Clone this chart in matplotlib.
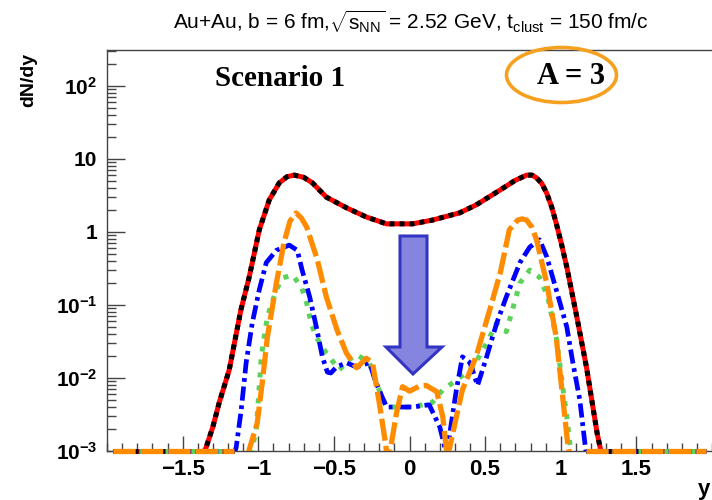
import numpy as np
import matplotlib
matplotlib.use("Agg")
import matplotlib.pyplot as plt
from matplotlib.patches import Ellipse, Polygon
from matplotlib.ticker import FixedLocator, LogLocator, MultipleLocator, NullFormatter

plt.rcParams['font.family'] = ['Liberation Sans', 'DejaVu Sans']
plt.rcParams['mathtext.fontset'] = 'custom'
plt.rcParams['mathtext.rm'] = 'Liberation Sans'
plt.rcParams['mathtext.it'] = 'Liberation Sans:italic'
plt.rcParams['mathtext.bf'] = 'Liberation Sans:bold'

# ---------------- data (dN/dy vs rapidity y) ----------------
floor_value = 1e-3
floor_left = [-1.96, -1.16]
floor_right = [1.17, 1.96]

tot_x = [-1.37, -1.346, -1.30, -1.258, -1.192, -1.115, -1.06, -0.993, -0.927, -0.861, -0.81,
         -0.762, -0.70, -0.642, -0.55, -0.417, -0.285, -0.152, 0.02, 0.15, 0.33, 0.44, 0.60,
         0.70, 0.775, 0.81, 0.84, 0.875, 0.907, 0.94, 0.97, 1.005, 1.04, 1.106, 1.17, 1.24,
         1.26, 1.27]
tot_v = [8.9e-4, 1.10e-3, 2.14e-3, 4.6e-3, 0.0129, 0.085, 0.24, 1.07, 2.75, 4.7, 5.7,
         6.0, 5.6, 4.7, 3.0, 2.14, 1.6, 1.29, 1.29, 1.45, 1.82, 2.34, 3.76,
         5.1, 6.0, 6.0, 5.5, 4.6, 3.4, 2.2, 1.32, 0.68, 0.33, 0.069, 0.0141, 1.78e-3,
         1.12e-3, 8.9e-4]

grn_x = [-1.05, -1.013, -0.98, -0.94, -0.88, -0.84, -0.775, -0.715, -0.68, -0.65, -0.616,
         -0.55, -0.464, -0.40, -0.35, -0.265, -0.22, -0.152, 0.02, 0.15, 0.22, 0.31, 0.42,
         0.51, 0.576, 0.64, 0.68, 0.73, 0.795, 0.86, 0.914, 0.97, 1.01, 1.04, 1.06, 1.07]
grn_v = [8.9e-4, 1.95e-3, 0.0195, 0.069, 0.162, 0.234, 0.257, 0.178, 0.107, 0.056, 0.036,
         0.0219, 0.0129, 0.0178, 0.0209, 0.0162, 8.5e-3, 4.0e-3, 4.0e-3, 4.6e-3, 6.9e-3, 9.3e-3, 0.0141,
         0.030, 0.056, 0.043, 0.085, 0.20, 0.30, 0.24, 0.129, 0.036, 8.5e-3, 2.95e-3, 1.26e-3, 8.9e-4]

blu_x = [-1.16, -1.146, -1.113, -1.08, -1.04, -0.993, -0.947, -0.88, -0.795, -0.742, -0.71,
         -0.66, -0.616, -0.576, -0.543, -0.52, -0.483, -0.417, -0.35, -0.265, -0.22, -0.152,
         0.02, 0.13, 0.20, 0.245, 0.31, 0.35, 0.40, 0.45, 0.51, 0.576, 0.64, 0.73, 0.795,
         0.86, 0.907, 0.97, 1.04, 1.08, 1.126, 1.16, 1.17]
blu_v = [8.9e-4, 1.12e-3, 3.6e-3, 0.0162, 0.056, 0.162, 0.38, 0.56, 0.66, 0.56, 0.30,
         0.129, 0.050, 0.0195, 0.012, 0.0117, 0.0141, 0.0162, 0.0141, 0.0162, 8.5e-3, 4.0e-3,
         4.0e-3, 4.3e-3, 2.14e-3, 8.9e-4, 6.9e-3, 0.0195, 0.0162, 7.9e-3, 0.0195, 0.056, 0.129, 0.38, 0.62,
         0.78, 0.46, 0.162, 0.050, 0.0162, 5.0e-3, 1.26e-3, 8.9e-4]

org_x = [-1.07, -1.007, -0.974, -0.94, -0.88, -0.83, -0.79, -0.75, -0.715, -0.68, -0.61, -0.55,
         -0.48, -0.417, -0.35, -0.285, -0.245, -0.2, -0.165, -0.145, -0.12, -0.086, -0.046,
         0.0, 0.07, 0.11, 0.18, 0.22, 0.25, 0.31, 0.35, 0.44, 0.53, 0.60, 0.66, 0.715,
         0.745, 0.775, 0.81, 0.84, 0.907, 0.97, 1.01, 1.046, 1.06]
org_v = [8.9e-4, 2.4e-3, 8.5e-3, 0.036, 0.20, 0.71, 1.41, 1.82, 1.55, 1.17, 0.42, 0.129,
         0.046, 0.0219, 0.0138, 0.0186, 0.0162, 4.6e-3, 1.55e-3, 7.9e-4, 1.26e-3, 3.3e-3, 7.6e-3,
         6.6e-3, 7.8e-3, 7.9e-3, 6.5e-3, 2.95e-3, 7.9e-4, 2.95e-3, 6.9e-3, 0.0195, 0.085, 0.275, 1.07, 1.45,
         1.51, 1.45, 1.15, 0.78, 0.20, 0.036, 6.2e-3, 1.26e-3, 8.9e-4]

xticks = [-1.5, -1, -0.5, 0, 0.5, 1, 1.5]
xtick_labels = ['\u22121.5', '\u22121', '\u22120.5', '0', '0.5', '1', '1.5']
ytick_vals = [1e-3, 1e-2, 1e-1, 1, 10, 100]
ytick_labels = [r'$\mathbf{10^{-3}}$', r'$\mathbf{10^{-2}}$', r'$\mathbf{10^{-1}}$', '1', '10',
                r'$\mathbf{10^{2}}$']

# ---------------- figure ----------------
W, H = 712, 500
fig = plt.figure(figsize=(W / 100, H / 100), dpi=100)
ax = fig.add_axes([107 / W, 49 / H, 605 / W, 401 / H])
ax.set_yscale('log')
ax.set_xlim(-2.0, 2.0)
ax.set_ylim(1e-3, 3.1e2)

RED, BLK = '#ff0000', '#000000'
GRN, BLU, ORG = '#5cd25c', '#0000ff', '#ff8c00'

styles = [
    dict(color=RED, lw=3.6, ls='-'),
    dict(color=BLK, lw=3.6, ls=(0, (1.0, 1.0))),
]
grn_style = dict(color=GRN, lw=3.6, ls=(0, (1.0, 1.6)))
blu_style = dict(color=BLU, lw=3.4, ls=(0, (3.0, 1.0, 0.8, 1.0)))
org_style = dict(color=ORG, lw=3.8, ls=(0, (4.2, 1.0)))


def draw(xs, vs, style_list):
    for st in style_list:
        ax.plot(xs, vs, solid_capstyle='butt', dash_capstyle='butt', solid_joinstyle='round',
                zorder=3, **st)
        for seg in (floor_left, floor_right):
            ax.plot(seg, [floor_value, floor_value], clip_on=False,
                    solid_capstyle='butt', dash_capstyle='butt', zorder=3, **st)


draw(tot_x, tot_v, styles)
draw(grn_x, grn_v, [grn_style])
draw(blu_x, blu_v, [blu_style])
draw(org_x, org_v, [org_style])

# ---------------- axes styling (ROOT-like) ----------------
ax.spines['right'].set_visible(False)
for s in ['left', 'top', 'bottom']:
    ax.spines[s].set_color('#444444')
    ax.spines[s].set_linewidth(1.0)

ax.xaxis.set_major_locator(FixedLocator(xticks))
ax.set_xticklabels(xtick_labels)
ax.xaxis.set_minor_locator(MultipleLocator(0.1))
ax.yaxis.set_major_locator(FixedLocator(ytick_vals))
ax.set_yticklabels(ytick_labels)
ax.yaxis.set_minor_locator(LogLocator(base=10, subs=np.arange(2, 10)))
ax.yaxis.set_minor_formatter(NullFormatter())

ax.tick_params(axis='y', which='major', direction='in', length=13, width=1.0, color='#444444',
               pad=7, labelsize=15)
ax.tick_params(axis='y', which='minor', direction='in', length=6.5, width=1.0, color='#444444')
ax.tick_params(axis='x', which='major', direction='in', length=11, width=1.0, color='#444444',
               pad=6, labelsize=16)
ax.tick_params(axis='x', which='minor', direction='in', length=5.5, width=1.0, color='#444444')
for lab in ax.get_xticklabels() + ax.get_yticklabels():
    lab.set_fontweight('bold')

# ---------------- texts ----------------
fig.text(411 / W, 1 - 22 / H,
         r'Au+Au, b = 6 fm,$\sqrt{\mathrm{s_{NN}}}$ = 2.52 GeV, t$_{\mathrm{clust}}$ = 150 fm/c',
         ha='center', va='center', fontsize=15)
fig.text(29 / W, 1 - 53 / H, 'dN/dy', rotation=90, ha='center', va='top',
         fontsize=14, fontweight='bold')
fig.text(710 / W, 1 - 490 / H, 'y', ha='right', va='center', fontsize=16, fontweight='bold')

fig.text(280 / W, 1 - 78 / H, 'Scenario 1', ha='center', va='center', fontsize=21,
         fontweight='bold', family=['Liberation Serif', 'DejaVu Serif'])
fig.text(571 / W, 1 - 77 / H, 'A = 3', ha='center', va='center', fontsize=22,
         fontweight='bold', family=['Liberation Serif', 'DejaVu Serif'])
fig.patches.append(Ellipse((561.5 / W, 1 - 75 / H), 110 / W, 55 / H, transform=fig.transFigure,
                           fill=False, edgecolor='#f5a01e', lw=2.6))

# ---------------- arrow (axes fraction) ----------------
def ax_pt(px, py):
    return ((px - 107) / 605, (451 - py) / 401)

arrow_pts = [ax_pt(400, 236), ax_pt(427, 236), ax_pt(427, 347), ax_pt(442, 347),
             ax_pt(413, 374), ax_pt(386, 347), ax_pt(400, 347)]
ax.add_patch(Polygon(arrow_pts, closed=True, transform=ax.transAxes,
                     facecolor='#8585e0', edgecolor='#3434c4', lw=2.2, zorder=5))

fig.savefig('out.png', dpi=100)
